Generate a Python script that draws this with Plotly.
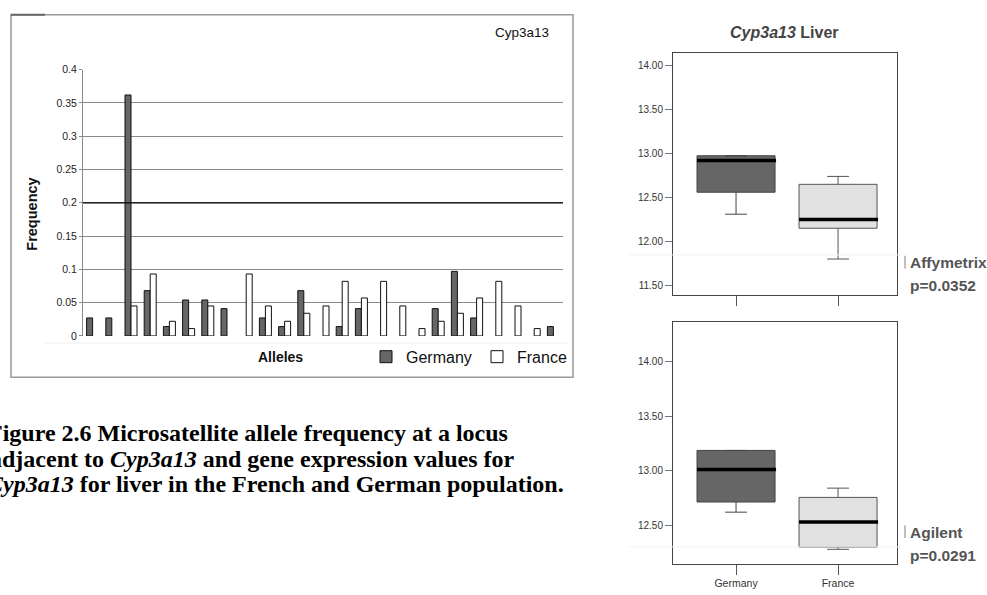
import plotly.graph_objects as go

W, H = 987, 595


def px(x):
    return x / W


def py(y):
    return 1 - y / H


# ---- allele frequency data (25 microsatellite alleles) ----
alleles = list(range(1, 26))
germany_freq = [0.027, 0.027, 0.362, 0.068, 0.014, 0.054, 0.054, 0.041, None, 0.027,
                0.014, 0.068, None, 0.014, 0.041, None, None, None, 0.041, 0.097,
                0.027, None, None, None, 0.014]
france_freq = [None, None, 0.045, 0.093, 0.022, 0.011, 0.045, None, 0.093, 0.045,
               0.022, 0.034, 0.045, 0.082, 0.057, 0.082, 0.045, 0.011, 0.022, 0.034,
               0.057, 0.082, 0.045, 0.011, None]
freq_ticks = [0, 0.05, 0.1, 0.15, 0.2, 0.25, 0.3, 0.35, 0.4]

# ---- Cyp3a13 liver expression (box statistics) ----
groups = ["Germany", "France"]
affy_q1 = [12.56, 12.15]
affy_median = [12.92, 12.25]
affy_q3 = [12.975, 12.65]
affy_low = [12.31, 11.80]
affy_high = [12.975, 12.74]

agil_q1 = [12.713, 12.30]
agil_median = [13.01, 12.53]
agil_q3 = [13.185, 12.755]
agil_low = [12.62, 12.28]
agil_high = [13.185, 12.84]

affy_ticks = [11.5, 12.0, 12.5, 13.0, 13.5, 14.0]
agil_ticks = [12.5, 13.0, 13.5, 14.0]

box_fill = ["#666666", "#e1e1e1"]
box_line = ["#444444", "#555555"]
BOX_W = 0.765

SANS = "Liberation Sans, Arial, sans-serif"
SERIF = "Liberation Serif, Times New Roman, serif"

fig = go.Figure()

# allele frequency bars
fig.add_trace(go.Bar(x=alleles, y=germany_freq, name="Germany",
                     marker=dict(color="#666666", line=dict(color="#111111", width=1)),
                     xaxis="x", yaxis="y"))
fig.add_trace(go.Bar(x=alleles, y=france_freq, name="France",
                     marker=dict(color="#ffffff", line=dict(color="#111111", width=1)),
                     xaxis="x", yaxis="y"))


def add_boxes(q1, med, q3, lo, hi, xa, ya):
    for i in range(len(groups)):
        fig.add_trace(go.Box(x=[i], q1=[q1[i]], median=[med[i]], q3=[q3[i]],
                             lowerfence=[lo[i]], upperfence=[hi[i]],
                             width=BOX_W, whiskerwidth=0.28,
                             fillcolor=box_fill[i],
                             line=dict(color=box_line[i], width=1),
                             boxpoints=False, showlegend=False, hoverinfo="skip",
                             xaxis=xa, yaxis=ya))
        # heavy median bar
        fig.add_trace(go.Scatter(x=[i - BOX_W / 2, i + BOX_W / 2 + 0.01], y=[med[i], med[i]],
                                 mode="lines", line=dict(color="#000000", width=3.5),
                                 showlegend=False, hoverinfo="skip",
                                 xaxis=xa, yaxis=ya))


add_boxes(affy_q1, affy_median, affy_q3, affy_low, affy_high, "x2", "y2")
add_boxes(agil_q1, agil_median, agil_q3, agil_low, agil_high, "x3", "y3")

box_xrange = [-0.618, 1.578]

fig.update_layout(
    width=W, height=H,
    margin=dict(l=0, r=0, t=0, b=0),
    paper_bgcolor="white", plot_bgcolor="white",
    barmode="group", bargap=0.375, bargroupgap=0,
    font=dict(family=SANS, color="#222222"),
    xaxis=dict(domain=[px(83), px(563)], range=[0.5, 25.5], anchor="y",
               showticklabels=False, ticks="", showgrid=False, zeroline=False,
               showline=False, fixedrange=True),
    yaxis=dict(domain=[py(336.7), py(65)], range=[0, 0.4], anchor="x",
               tickvals=freq_ticks, ticks="outside", ticklen=3, tickcolor="#888888",
               tickfont=dict(size=10.5, color="#222222"),
               showgrid=True, gridcolor="#8a8a8a", gridwidth=1,
               zeroline=True, zerolinecolor="rgba(0,0,0,0)",
               showline=True, linecolor="#8a8a8a", linewidth=1),
    xaxis2=dict(domain=[px(673), px(897)], range=box_xrange, anchor="y2",
                tickvals=[0, 1], showticklabels=False, ticks="outside", ticklen=10,
                tickcolor="#555555", showgrid=False, zeroline=False,
                showline=True, mirror=True, linecolor="#444444", linewidth=1),
    yaxis2=dict(domain=[py(295), py(48)], range=[11.39, 14.144], anchor="x2",
                tickvals=affy_ticks, tickformat=".2f", ticks="outside", ticklen=7,
                tickcolor="#777777", tickfont=dict(size=10, color="#333333"),
                showgrid=False, zeroline=False,
                showline=True, mirror=True, linecolor="#444444", linewidth=1),
    xaxis3=dict(domain=[px(673), px(897)], range=box_xrange, anchor="y3",
                tickvals=[0, 1], ticktext=groups, ticks="outside", ticklen=10,
                tickcolor="#555555", tickfont=dict(size=10.5, color="#333333"),
                showgrid=False, zeroline=False,
                showline=True, mirror=True, linecolor="#444444", linewidth=1),
    yaxis3=dict(domain=[py(569), py(322)], range=[12.15, 14.365], anchor="x3",
                tickvals=agil_ticks, tickformat=".2f", ticks="outside", ticklen=7,
                tickcolor="#777777", tickfont=dict(size=10, color="#333333"),
                showgrid=False, zeroline=False,
                showline=True, mirror=True, linecolor="#444444", linewidth=1),
    legend=dict(orientation="h", x=px(366), y=py(358), xanchor="left", yanchor="middle",
                font=dict(size=16, color="#111111", family=SANS),
                bgcolor="rgba(0,0,0,0)", itemwidth=30, tracegroupgap=0,
                entrywidth=66, entrywidthmode="pixels"),
)

shapes = [
    # frame around the frequency chart
    dict(type="rect", xref="paper", yref="paper", x0=px(11), x1=px(573), y0=py(379), y1=py(9),
         line=dict(color="#999999", width=1.5)),
    dict(type="line", xref="paper", yref="paper", x0=px(11), x1=px(45), y0=py(9), y1=py(9),
         line=dict(color="#666666", width=2)),
    # emphasised 0.2 reference line
    dict(type="line", xref="x domain", yref="y", x0=0, x1=1, y0=0.2, y1=0.2,
         line=dict(color="#000000", width=1.2)),
    # faint baseline under the bars
    dict(type="line", xref="paper", yref="paper", x0=px(45), x1=px(567), y0=py(344), y1=py(344),
         line=dict(color="#eeeeee", width=1)),
    # faint rules and side marks near the platform labels
    dict(type="line", xref="paper", yref="paper", x0=px(628), x1=px(900), y0=py(254), y1=py(254),
         line=dict(color="#f3f3f3", width=1)),
    dict(type="line", xref="paper", yref="paper", x0=px(628), x1=px(900), y0=py(552), y1=py(552),
         line=dict(color="#f3f3f3", width=1)),
    dict(type="line", xref="paper", yref="paper", x0=px(905), x1=px(905), y0=py(268), y1=py(255),
         line=dict(color="#aaaaaa", width=1.5)),
    dict(type="line", xref="paper", yref="paper", x0=px(905), x1=px(905), y0=py(543), y1=py(530),
         line=dict(color="#aaaaaa", width=1.5)),
]
fig.update_layout(shapes=shapes)


def note(text, x, y, size, color="#111111", family=SANS, xanchor="center", angle=0):
    fig.add_annotation(text=text, x=px(x), y=py(y), xref="paper", yref="paper",
                       showarrow=False, xanchor=xanchor, yanchor="middle", textangle=angle,
                       font=dict(size=size, color=color, family=family))


note("Cyp3a13", 522, 27, 13.5)
note("<b>Frequency</b>", 32, 213, 14.5, angle=-90)
note("<b>Alleles</b>", 280, 358, 14)

note("<b><i>Cyp3a13</i> Liver</b>", 784, 27, 16, color="#444444")
note("<b>Affymetrix</b>", 908, 262, 15.5, color="#555555", xanchor="left")
note("<b>p=0.0352</b>", 908, 285, 15.5, color="#555555", xanchor="left")
note("<b>Agilent</b>", 908, 537, 15.5, color="#555555", xanchor="left")
note("<b>p=0.0291</b>", 908, 561, 15.5, color="#555555", xanchor="left")

caption = [
    "<b>Figure 2.6 Microsatellite allele frequency at a locus</b>",
    "<b>adjacent to <i>Cyp3a13</i> and gene expression values for</b>",
    "<b><i>Cyp3a13</i> for liver in the French and German population.</b>",
]
caption_x = [-14.5, -12, -15.5]
caption_y = [436, 462, 488]
for t, cx, cy in zip(caption, caption_x, caption_y):
    note(t, cx, cy, 24, color="#000000", family=SERIF, xanchor="left")

fig.write_html("out.html")
